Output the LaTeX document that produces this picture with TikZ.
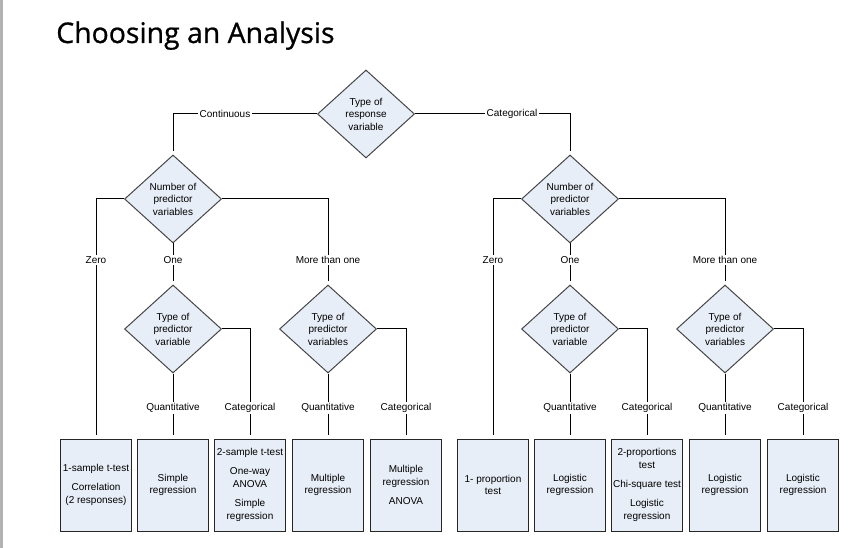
\documentclass[tikz,border=0pt]{standalone}
\usepackage{fontspec}
\setmainfont{Liberation Sans}
\newfontfamily\titlefont[FakeBold=0.8]{Open Sans}
\usetikzlibrary{shapes.geometric}
\definecolor{shapefill}{RGB}{232,238,247}
\definecolor{shapeline}{RGB}{70,70,70}

\tikzset{
  decision/.style={diamond, draw=shapeline, fill=shapefill, line width=0.75pt, inner sep=0pt, aspect=1.1,
    minimum width=72.75pt, minimum height=66pt, align=center, font=\fontsize{7.5}{9.4}\selectfont},
  result/.style={rectangle, draw=black!85, fill=shapefill, line width=0.75pt, inner sep=0.5pt,
    minimum width=53.25pt, minimum height=69pt, align=center, font=\fontsize{7.5}{9.6}\selectfont},
  lbl/.style={fill=white, inner sep=1pt, font=\fontsize{7.5}{9}\selectfont},
  conn/.style={line width=0.75pt},
  arrive/.style={shorten >=2.5pt}
}

\begin{document}
\begin{tikzpicture}[x=0.75pt,y=-0.75pt]
        \useasboundingbox (0,0) rectangle (862,548);
        %Shape: page edge
        \fill[black!30] (0,0) rectangle (2.5,548);

        % Text Node
        \node[anchor=base west, inner sep=0pt, font=\titlefont\fontsize{21.3}{25}\selectfont] (title) at (56,43) {Choosing an Analysis};

        %Shape: Diamond
        \node[decision] (resp) at (366,114) {Type of\\response\\variable};
        \node[lbl] (cont) at (225,114) {Continuous};
        \node[lbl] (catT) at (512,114) {Categorical};

        % continuous side
        \node[decision] (numL) at (173,199) {Number of\\predictor\\variables};
        \node[lbl] (zeroL) at (96,260) {Zero};
        \node[lbl] (oneL) at (173,260) {One};
        \node[lbl] (moreL) at (328,260) {More than one};
        \node[decision] (typeLA) at (173,329) {Type of\\predictor\\variable};
        \node[decision] (typeLB) at (328,329) {Type of\\predictor\\variables};
        \node[lbl] (quanLA) at (173,408) {Quantitative};
        \node[lbl] (catLA) at (250,408) {Categorical};
        \node[lbl] (quanLB) at (328,408) {Quantitative};
        \node[lbl] (catLB) at (406,408) {Categorical};
        %Shape: Rectangle
        \node[result] (ttest) at (96,485) {1-sample t-test\\[4.5pt]Correlation\\(2 responses)};
        \node[result] (simreg) at (173,485) {Simple\\regression};
        \node[result] (twosam) at (250,485) {2-sample t-test\\[4.5pt]One-way\\ANOVA\\[4.5pt]Simple\\regression};
        \node[result] (mulreg) at (328,485) {Multiple\\regression};
        \node[result] (mulanova) at (406,485) {Multiple\\regression\\[4.5pt]ANOVA};

        % categorical side
        \node[decision] (numR) at (570,199) {Number of\\predictor\\variables};
        \node[lbl] (zeroR) at (493,260) {Zero};
        \node[lbl] (oneR) at (570,260) {One};
        \node[lbl] (moreR) at (725,260) {More than one};
        \node[decision] (typeRA) at (570,329) {Type of\\predictor\\variable};
        \node[decision] (typeRB) at (725,329) {Type of\\predictor\\variables};
        \node[lbl] (quanRA) at (570,408) {Quantitative};
        \node[lbl] (catRA) at (647,408) {Categorical};
        \node[lbl] (quanRB) at (725,408) {Quantitative};
        \node[lbl] (catRB) at (803,408) {Categorical};
        %Shape: Rectangle
        \node[result] (prop) at (493,485) {1- proportion\\test};
        \node[result] (logA) at (570,485) {Logistic\\regression};
        \node[result] (twoprop) at (647,485) {2-proportions\\test\\[4.5pt]Chi-square test\\[4.5pt]Logistic\\regression};
        \node[result] (logB) at (725,485) {Logistic\\regression};
        \node[result] (logC) at (803,485) {Logistic\\regression};

        % connectors
        \draw[conn] (resp.west) -- (cont);
        \draw[conn, arrive] (cont) -| (numL.north);
        \draw[conn] (resp.east) -- (catT);
        \draw[conn, arrive] (catT) -| (numR.north);

        \draw[conn] (numL.west) -| (zeroL);
        \draw[conn, arrive] (zeroL) -- (ttest);
        \draw[conn] (numL.south) -- (oneL);
        \draw[conn, arrive] (oneL) -- (typeLA);
        \draw[conn] (numL.east) -| (moreL);
        \draw[conn, arrive] (moreL) -- (typeLB);
        \draw[conn] (typeLA.south) -- (quanLA);
        \draw[conn, arrive] (quanLA) -- (simreg);
        \draw[conn] (typeLA.east) -| (catLA);
        \draw[conn, arrive] (catLA) -- (twosam);
        \draw[conn] (typeLB.south) -- (quanLB);
        \draw[conn, arrive] (quanLB) -- (mulreg);
        \draw[conn] (typeLB.east) -| (catLB);
        \draw[conn, arrive] (catLB) -- (mulanova);

        \draw[conn] (numR.west) -| (zeroR);
        \draw[conn, arrive] (zeroR) -- (prop);
        \draw[conn] (numR.south) -- (oneR);
        \draw[conn, arrive] (oneR) -- (typeRA);
        \draw[conn] (numR.east) -| (moreR);
        \draw[conn, arrive] (moreR) -- (typeRB);
        \draw[conn] (typeRA.south) -- (quanRA);
        \draw[conn, arrive] (quanRA) -- (logA);
        \draw[conn] (typeRA.east) -| (catRA);
        \draw[conn, arrive] (catRA) -- (twoprop);
        \draw[conn] (typeRB.south) -- (quanRB);
        \draw[conn, arrive] (quanRB) -- (logB);
        \draw[conn] (typeRB.east) -| (catRB);
        \draw[conn, arrive] (catRB) -- (logC);

\end{tikzpicture}
\end{document}
